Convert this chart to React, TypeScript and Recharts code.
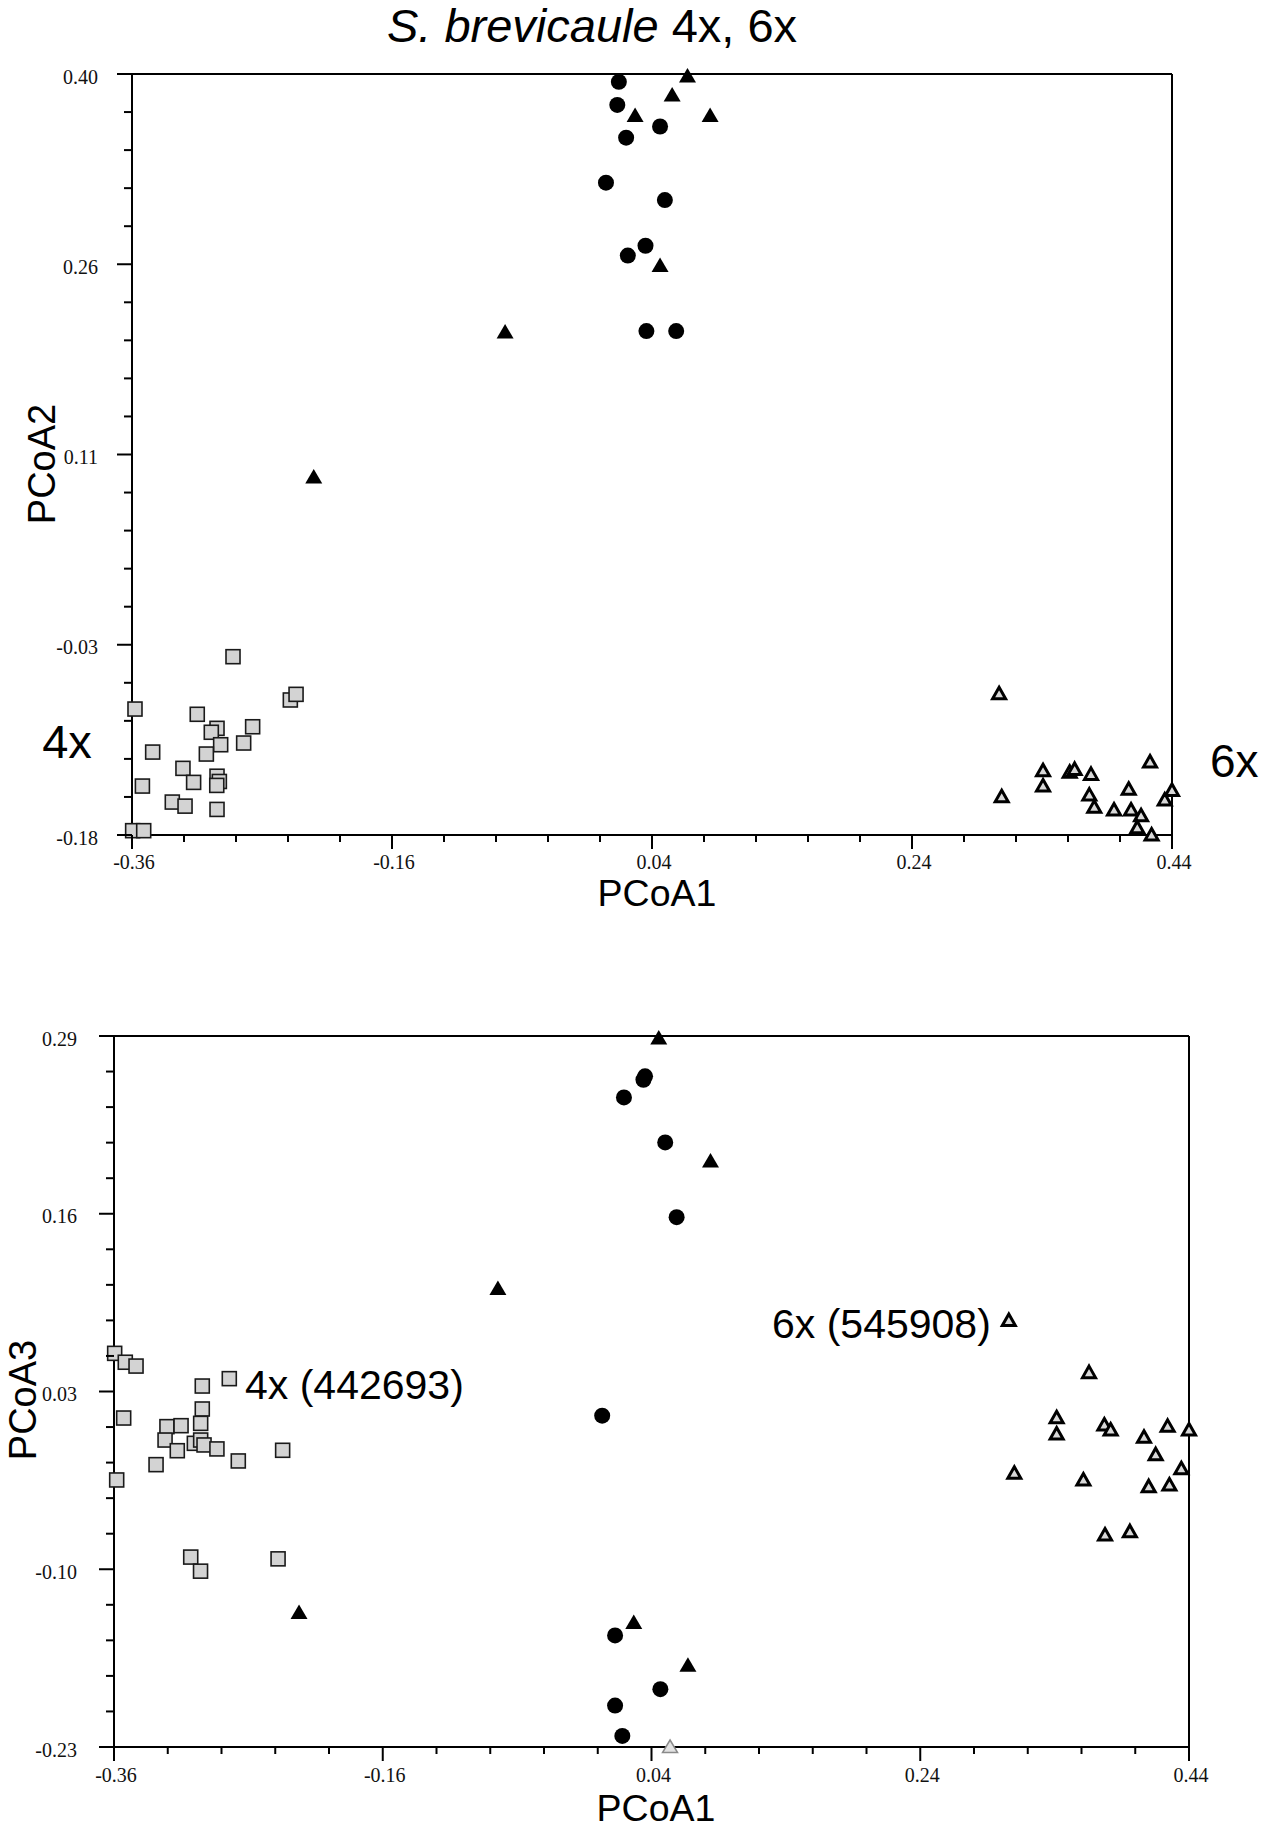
import React from 'react';
import { ScatterChart, Scatter, XAxis, YAxis, ReferenceLine } from 'recharts';

type Pt = { x: number; y: number };

// ---- axis ticks ----
const X_MAJOR = [-0.36, -0.16, 0.04, 0.24, 0.44];
const X_LABELS = ['-0.36', '-0.16', '0.04', '0.24', '0.44'];
const TOP_Y_MAJOR = [-0.18, -0.035, 0.11, 0.255, 0.4];
const TOP_Y_LABELS = ['-0.18', '-0.03', '0.11', '0.26', '0.40'];
const BOT_Y_MAJOR = [-0.23, -0.1, 0.03, 0.16, 0.29];
const BOT_Y_LABELS = ['-0.23', '-0.10', '0.03', '0.16', '0.29'];

// ---- top panel: PCoA1 vs PCoA2 ----
const TOP_CIRCLES: Pt[] = [
  { x: 0.0145, y: 0.394 }, { x: 0.0133, y: 0.3764 }, { x: 0.0462, y: 0.36 },
  { x: 0.0201, y: 0.3515 }, { x: 0.0046, y: 0.3172 }, { x: 0.0499, y: 0.3039 },
  { x: 0.035, y: 0.2691 }, { x: 0.0214, y: 0.2616 }, { x: 0.0357, y: 0.2041 },
  { x: 0.0586, y: 0.2041 },
];
const TOP_FILLED_TRI: Pt[] = [
  { x: 0.0673, y: 0.3985 }, { x: 0.0555, y: 0.384 }, { x: 0.027, y: 0.3684 },
  { x: 0.0847, y: 0.3684 }, { x: 0.0462, y: 0.254 }, { x: -0.073, y: 0.2033 },
  { x: -0.2202, y: 0.0929 },
];
const TOP_SQUARES: Pt[] = [
  { x: -0.2823, y: -0.0441 }, { x: -0.2382, y: -0.0771 }, { x: -0.2338, y: -0.0728 },
  { x: -0.3577, y: -0.084 }, { x: -0.3098, y: -0.088 }, { x: -0.2946, y: -0.0987 },
  { x: -0.299, y: -0.1017 }, { x: -0.2672, y: -0.0975 }, { x: -0.2918, y: -0.1112 },
  { x: -0.2741, y: -0.1099 }, { x: -0.3028, y: -0.1183 }, { x: -0.3441, y: -0.1168 },
  { x: -0.3208, y: -0.1292 }, { x: -0.3126, y: -0.1399 }, { x: -0.2946, y: -0.1352 },
  { x: -0.2928, y: -0.1392 }, { x: -0.2948, y: -0.1422 }, { x: -0.352, y: -0.1427 },
  { x: -0.329, y: -0.1549 }, { x: -0.3192, y: -0.158 }, { x: -0.2946, y: -0.1605 },
  { x: -0.3595, y: -0.1767 }, { x: -0.351, y: -0.1767 },
];
const TOP_OPEN_TRI: Pt[] = [
  { x: 0.307, y: -0.0723 }, { x: 0.309, y: -0.1508 }, { x: 0.3408, y: -0.131 },
  { x: 0.3408, y: -0.1427 }, { x: 0.3613, y: -0.1322 }, { x: 0.3651, y: -0.13 },
  { x: 0.3777, y: -0.1338 }, { x: 0.3764, y: -0.1496 }, { x: 0.3802, y: -0.1589 },
  { x: 0.3954, y: -0.161 }, { x: 0.4067, y: -0.1452 }, { x: 0.4085, y: -0.161 },
  { x: 0.4162, y: -0.1653 }, { x: 0.4133, y: -0.1744 }, { x: 0.4243, y: -0.18 },
  { x: 0.4231, y: -0.1244 }, { x: 0.4344, y: -0.1534 }, { x: 0.44, y: -0.146 },
];

// ---- bottom panel: PCoA1 vs PCoA3 ----
const BOT_CIRCLES: Pt[] = [
  { x: 0.0352, y: 0.2605 }, { x: 0.034, y: 0.258 }, { x: 0.0195, y: 0.2451 },
  { x: 0.0502, y: 0.2122 }, { x: 0.0587, y: 0.1575 }, { x: 0.0033, y: 0.0123 },
  { x: 0.0129, y: -0.1484 }, { x: 0.0466, y: -0.1877 }, { x: 0.0129, y: -0.1997 },
  { x: 0.0183, y: -0.2219 },
];
const BOT_FILLED_TRI: Pt[] = [
  { x: 0.0454, y: 0.2885 }, { x: 0.0839, y: 0.1986 }, { x: -0.0743, y: 0.1054 },
  { x: -0.2223, y: -0.1317 }, { x: 0.0268, y: -0.139 }, { x: 0.0671, y: -0.1702 },
];
const BOT_GRAY_TRI: Pt[] = [{ x: 0.0538, y: -0.23 }];
const BOT_OPEN_TRI: Pt[] = [
  { x: 0.3059, y: 0.0819 }, { x: 0.3656, y: 0.0438 }, { x: 0.3415, y: 0.0108 },
  { x: 0.3415, y: -0.0011 }, { x: 0.377, y: 0.0055 }, { x: 0.3817, y: 0.0018 },
  { x: 0.4065, y: -0.0035 }, { x: 0.4241, y: 0.0045 }, { x: 0.44, y: 0.0018 },
  { x: 0.4152, y: -0.0162 }, { x: 0.31, y: -0.0298 }, { x: 0.3614, y: -0.0347 },
  { x: 0.4343, y: -0.0265 }, { x: 0.41, y: -0.0396 }, { x: 0.4254, y: -0.0384 },
  { x: 0.3775, y: -0.075 }, { x: 0.396, y: -0.0725 },
];
const BOT_SQUARES: Pt[] = [
  { x: -0.3595, y: 0.0579 }, { x: -0.3516, y: 0.0514 }, { x: -0.3436, y: 0.0486 },
  { x: -0.2742, y: 0.0394 }, { x: -0.2943, y: 0.034 }, { x: -0.2943, y: 0.0172 },
  { x: -0.3528, y: 0.0106 }, { x: -0.2955, y: 0.0067 }, { x: -0.3206, y: 0.0043 },
  { x: -0.3101, y: 0.005 }, { x: -0.322, y: -0.0055 }, { x: -0.3002, y: -0.0079 },
  { x: -0.2955, y: -0.0055 }, { x: -0.293, y: -0.0091 }, { x: -0.3129, y: -0.0133 },
  { x: -0.2834, y: -0.012 }, { x: -0.2345, y: -0.013 }, { x: -0.3287, y: -0.0235 },
  { x: -0.2675, y: -0.0208 }, { x: -0.358, y: -0.0347 }, { x: -0.3029, y: -0.0911 },
  { x: -0.2956, y: -0.1014 }, { x: -0.2379, y: -0.0924 },
];

// ---- helpers ----
function withMinor(majors: number[], n: number): number[] {
  const out: number[] = [];
  for (let i = 0; i < majors.length - 1; i++) {
    for (let j = 0; j < n; j++) out.push(majors[i] + ((majors[i + 1] - majors[i]) * j) / n);
  }
  out.push(majors[majors.length - 1]);
  return out;
}
function majorIndex(v: number, majors: number[]): number {
  return majors.findIndex((m) => Math.abs(m - v) < 1e-6);
}

const SERIF = '"Liberation Serif", "Times New Roman", serif';
const SANS = '"Liberation Sans", Arial, Helvetica, sans-serif';

const makeXTick = (labelDy: number) => (props: any) => {
  const { x, y, payload } = props;
  const mi = majorIndex(payload.value, X_MAJOR);
  const major = mi >= 0;
  return (
    <g>
      <line x1={x} y1={y} x2={x} y2={y + (major ? 14 : 7)} stroke="#000" strokeWidth={2} />
      {major && (
        <text x={x + 2} y={y + labelDy} textAnchor="middle" fontFamily={SERIF} fontSize={20} fill="#111">
          {X_LABELS[mi]}
        </text>
      )}
    </g>
  );
};

const makeYTick = (majors: number[], labels: string[], labelDx: number) => (props: any) => {
  const { x, y, payload } = props;
  const mi = majorIndex(payload.value, majors);
  const major = mi >= 0;
  return (
    <g>
      <line x1={x - (major ? 15 : 8)} y1={y} x2={x} y2={y} stroke="#000" strokeWidth={2} />
      {major && (
        <text x={x - labelDx} y={y + 9.5} textAnchor="end" fontFamily={SERIF} fontSize={20} fill="#111">
          {labels[mi]}
        </text>
      )}
    </g>
  );
};

const Circle = (p: any) => <circle cx={p.cx} cy={p.cy} r={8} fill="#000" />;
const FilledTri = (p: any) => (
  <path d={`M${p.cx},${p.cy - 8}L${p.cx + 8.5},${p.cy + 6.5}L${p.cx - 8.5},${p.cy + 6.5}Z`} fill="#000" />
);
const OpenTri = (p: any) => (
  <path
    d={`M${p.cx},${p.cy - 6.5}L${p.cx + 6.5},${p.cy + 5}L${p.cx - 6.5},${p.cy + 5}Z`}
    fill="#d8d8d8"
    stroke="#000"
    strokeWidth={3}
    strokeLinejoin="miter"
  />
);
const GrayTri = (p: any) => (
  <path
    d={`M${p.cx},${p.cy - 7}L${p.cx + 7.5},${p.cy + 5.5}L${p.cx - 7.5},${p.cy + 5.5}Z`}
    fill="#e2e2e2"
    stroke="#8a8a8a"
    strokeWidth={1.5}
  />
);
const Square = (p: any) => (
  <rect x={p.cx - 7} y={p.cy - 7} width={14} height={14} fill="#d3d3d3" stroke="#1a1a1a" strokeWidth={1.6} />
);

const X_TICKS = withMinor(X_MAJOR, 5);
const TOP_Y_TICKS = withMinor(TOP_Y_MAJOR, 5);
const BOT_Y_TICKS = withMinor(BOT_Y_MAJOR, 5);

export default function App() {
  return (
    <div style={{ position: 'absolute', left: 0, top: 0, width: 1268, height: 1830, background: '#fff' }}>
      <div style={{ position: 'absolute', left: 0, top: 0 }}>
        <ScatterChart width={1268} height={915} margin={{ top: 74, right: 96, bottom: 50, left: 72 }}>
          <XAxis
            type="number"
            dataKey="x"
            domain={[-0.36, 0.44]}
            ticks={X_TICKS}
            interval={0}
            tickSize={0}
            tickMargin={0}
            tickLine={false}
            height={30}
            axisLine={{ stroke: '#000', strokeWidth: 2 }}
            tick={makeXTick(34)}
          />
          <YAxis
            type="number"
            dataKey="y"
            domain={[-0.18, 0.4]}
            ticks={TOP_Y_TICKS}
            interval={0}
            tickSize={0}
            tickMargin={0}
            tickLine={false}
            width={60}
            axisLine={{ stroke: '#000', strokeWidth: 2 }}
            tick={makeYTick(TOP_Y_MAJOR, TOP_Y_LABELS, 34)}
          />
          <ReferenceLine y={0.4} stroke="#000" strokeWidth={2} />
          <ReferenceLine x={0.44} stroke="#000" strokeWidth={2} />
          <Scatter data={TOP_SQUARES} shape={Square} isAnimationActive={false} />
          <Scatter data={TOP_OPEN_TRI} shape={OpenTri} isAnimationActive={false} />
          <Scatter data={TOP_CIRCLES} shape={Circle} isAnimationActive={false} />
          <Scatter data={TOP_FILLED_TRI} shape={FilledTri} isAnimationActive={false} />
        </ScatterChart>
      </div>
      <div style={{ position: 'absolute', left: 0, top: 915 }}>
        <ScatterChart width={1268} height={915} margin={{ top: 121, right: 79, bottom: 53, left: 54 }}>
          <XAxis
            type="number"
            dataKey="x"
            domain={[-0.36, 0.44]}
            ticks={X_TICKS}
            interval={0}
            tickSize={0}
            tickMargin={0}
            tickLine={false}
            height={30}
            axisLine={{ stroke: '#000', strokeWidth: 2 }}
            tick={makeXTick(35)}
          />
          <YAxis
            type="number"
            dataKey="y"
            domain={[-0.23, 0.29]}
            ticks={BOT_Y_TICKS}
            interval={0}
            tickSize={0}
            tickMargin={0}
            tickLine={false}
            width={60}
            axisLine={{ stroke: '#000', strokeWidth: 2 }}
            tick={makeYTick(BOT_Y_MAJOR, BOT_Y_LABELS, 37)}
          />
          <ReferenceLine y={0.29} stroke="#000" strokeWidth={2} />
          <ReferenceLine x={0.44} stroke="#000" strokeWidth={2} />
          <Scatter data={BOT_SQUARES} shape={Square} isAnimationActive={false} />
          <Scatter data={BOT_OPEN_TRI} shape={OpenTri} isAnimationActive={false} />
          <Scatter data={BOT_GRAY_TRI} shape={GrayTri} isAnimationActive={false} />
          <Scatter data={BOT_CIRCLES} shape={Circle} isAnimationActive={false} />
          <Scatter data={BOT_FILLED_TRI} shape={FilledTri} isAnimationActive={false} />
        </ScatterChart>
      </div>
      <svg
        width={1268}
        height={1830}
        style={{ position: 'absolute', left: 0, top: 0, pointerEvents: 'none' }}
      >
        <text x={592} y={42} textAnchor="middle" fontFamily={SANS} fontSize={47} fill="#000">
          <tspan fontStyle="italic">S. brevicaule</tspan>
          <tspan> 4x, 6x</tspan>
        </text>
        <text x={657} y={906} textAnchor="middle" fontFamily={SANS} fontSize={37.5} fill="#000">PCoA1</text>
        <text x={55} y={464} textAnchor="middle" fontFamily={SANS} fontSize={38} fill="#000" transform="rotate(-90 55 464)">PCoA2</text>
        <text x={67} y={758} textAnchor="middle" fontFamily={SANS} fontSize={47} fill="#000">4x</text>
        <text x={1210} y={777} textAnchor="start" fontFamily={SANS} fontSize={46} fill="#000">6x</text>

        <text x={656} y={1821} textAnchor="middle" fontFamily={SANS} fontSize={37.5} fill="#000">PCoA1</text>
        <text x={36} y={1400} textAnchor="middle" fontFamily={SANS} fontSize={38} fill="#000" transform="rotate(-90 36 1400)">PCoA3</text>
        <text x={245} y={1399} textAnchor="start" fontFamily={SANS} fontSize={41} fill="#000">4x (442693)</text>
        <text x={772} y={1338} textAnchor="start" fontFamily={SANS} fontSize={41} fill="#000">6x (545908)</text>
      </svg>
    </div>
  );
}
